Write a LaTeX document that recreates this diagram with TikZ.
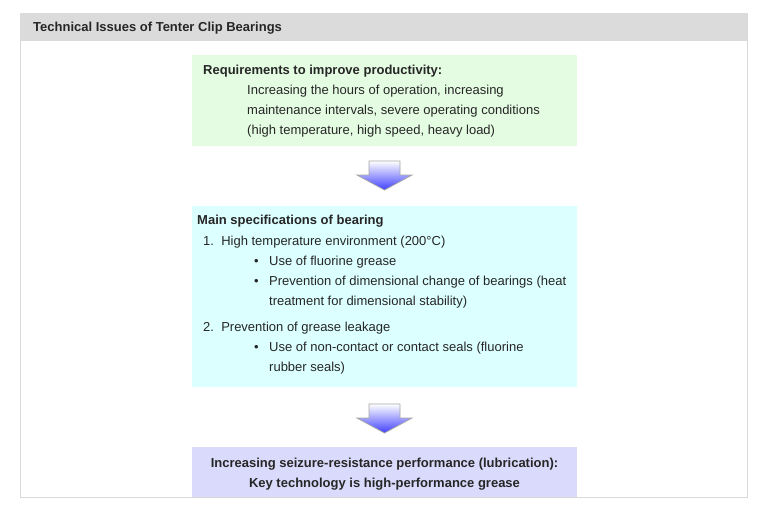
\documentclass[tikz,border=0pt]{standalone}
\usepackage{fontspec}
\setmainfont{Liberation Sans}
\definecolor{bgreen}{RGB}{228,252,226}
\definecolor{bcyan}{RGB}{220,255,255}
\definecolor{blav}{RGB}{218,218,252}
\begin{document}
\begin{tikzpicture}[x=1pt,y=-1pt,
  txt/.style={anchor=base west,inner sep=0pt,font=\fontsize{13}{16}\selectfont,text=black!85},
  bold/.style={txt,font=\fontsize{13}{16}\selectfont\bfseries},
  arr/.style={draw=gray!70,top color=white,bottom color=blue!75,line width=0.8pt}]
\useasboundingbox (0,0) rectangle (757,512);
\draw[gray!30,fill=white] (20,13) rectangle (747,497);
\fill[gray!28] (20,13) rectangle (747,41);
\node[bold] (h) at (33,31) {Technical Issues of Tenter Clip Bearings};
\fill[bgreen] (192,55) rectangle (577,146);
\node[bold] (a1) at (203,74) {Requirements to improve productivity:};
\node[txt] (a2) at (247,94) {Increasing the hours of operation, increasing};
\node[txt] (a3) at (247,114) {maintenance intervals, severe operating conditions};
\node[txt] (a4) at (247,134) {(high temperature, high speed, heavy load)};
\draw[arr] (369,161)--(400,161)--(400,175)--(412,175)--(384.5,190)--(357,175)--(369,175)--cycle;
\fill[bcyan] (192,206) rectangle (577,387);
\node[bold] (b1) at (197,224) {Main specifications of bearing};
\node[txt] (b2) at (203,245) {1.\ \ High temperature environment (200°C)};
\node[txt] (b3) at (254,265) {•};
\node[txt] (b4) at (269,265) {Use of fluorine grease};
\node[txt] (b5) at (254,285) {•};
\node[txt] (b6) at (269,285) {Prevention of dimensional change of bearings (heat};
\node[txt] (b7) at (269,305) {treatment for dimensional stability)};
\node[txt] (b8) at (203,331) {2.\ \ Prevention of grease leakage};
\node[txt] (b9) at (254,351) {•};
\node[txt] (b10) at (269,351) {Use of non-contact or contact seals (fluorine};
\node[txt] (b11) at (269,371) {rubber seals)};
\draw[arr] (369,404)--(400,404)--(400,418)--(412,418)--(384.5,433)--(357,418)--(369,418)--cycle;
\fill[blav] (192,447) rectangle (577,497);
\node[bold,anchor=base] (c1) at (384.5,467) {Increasing seizure-resistance performance (lubrication):};
\node[bold,anchor=base] (c2) at (384.5,487) {Key technology is high-performance grease};
\end{tikzpicture}
\end{document}
